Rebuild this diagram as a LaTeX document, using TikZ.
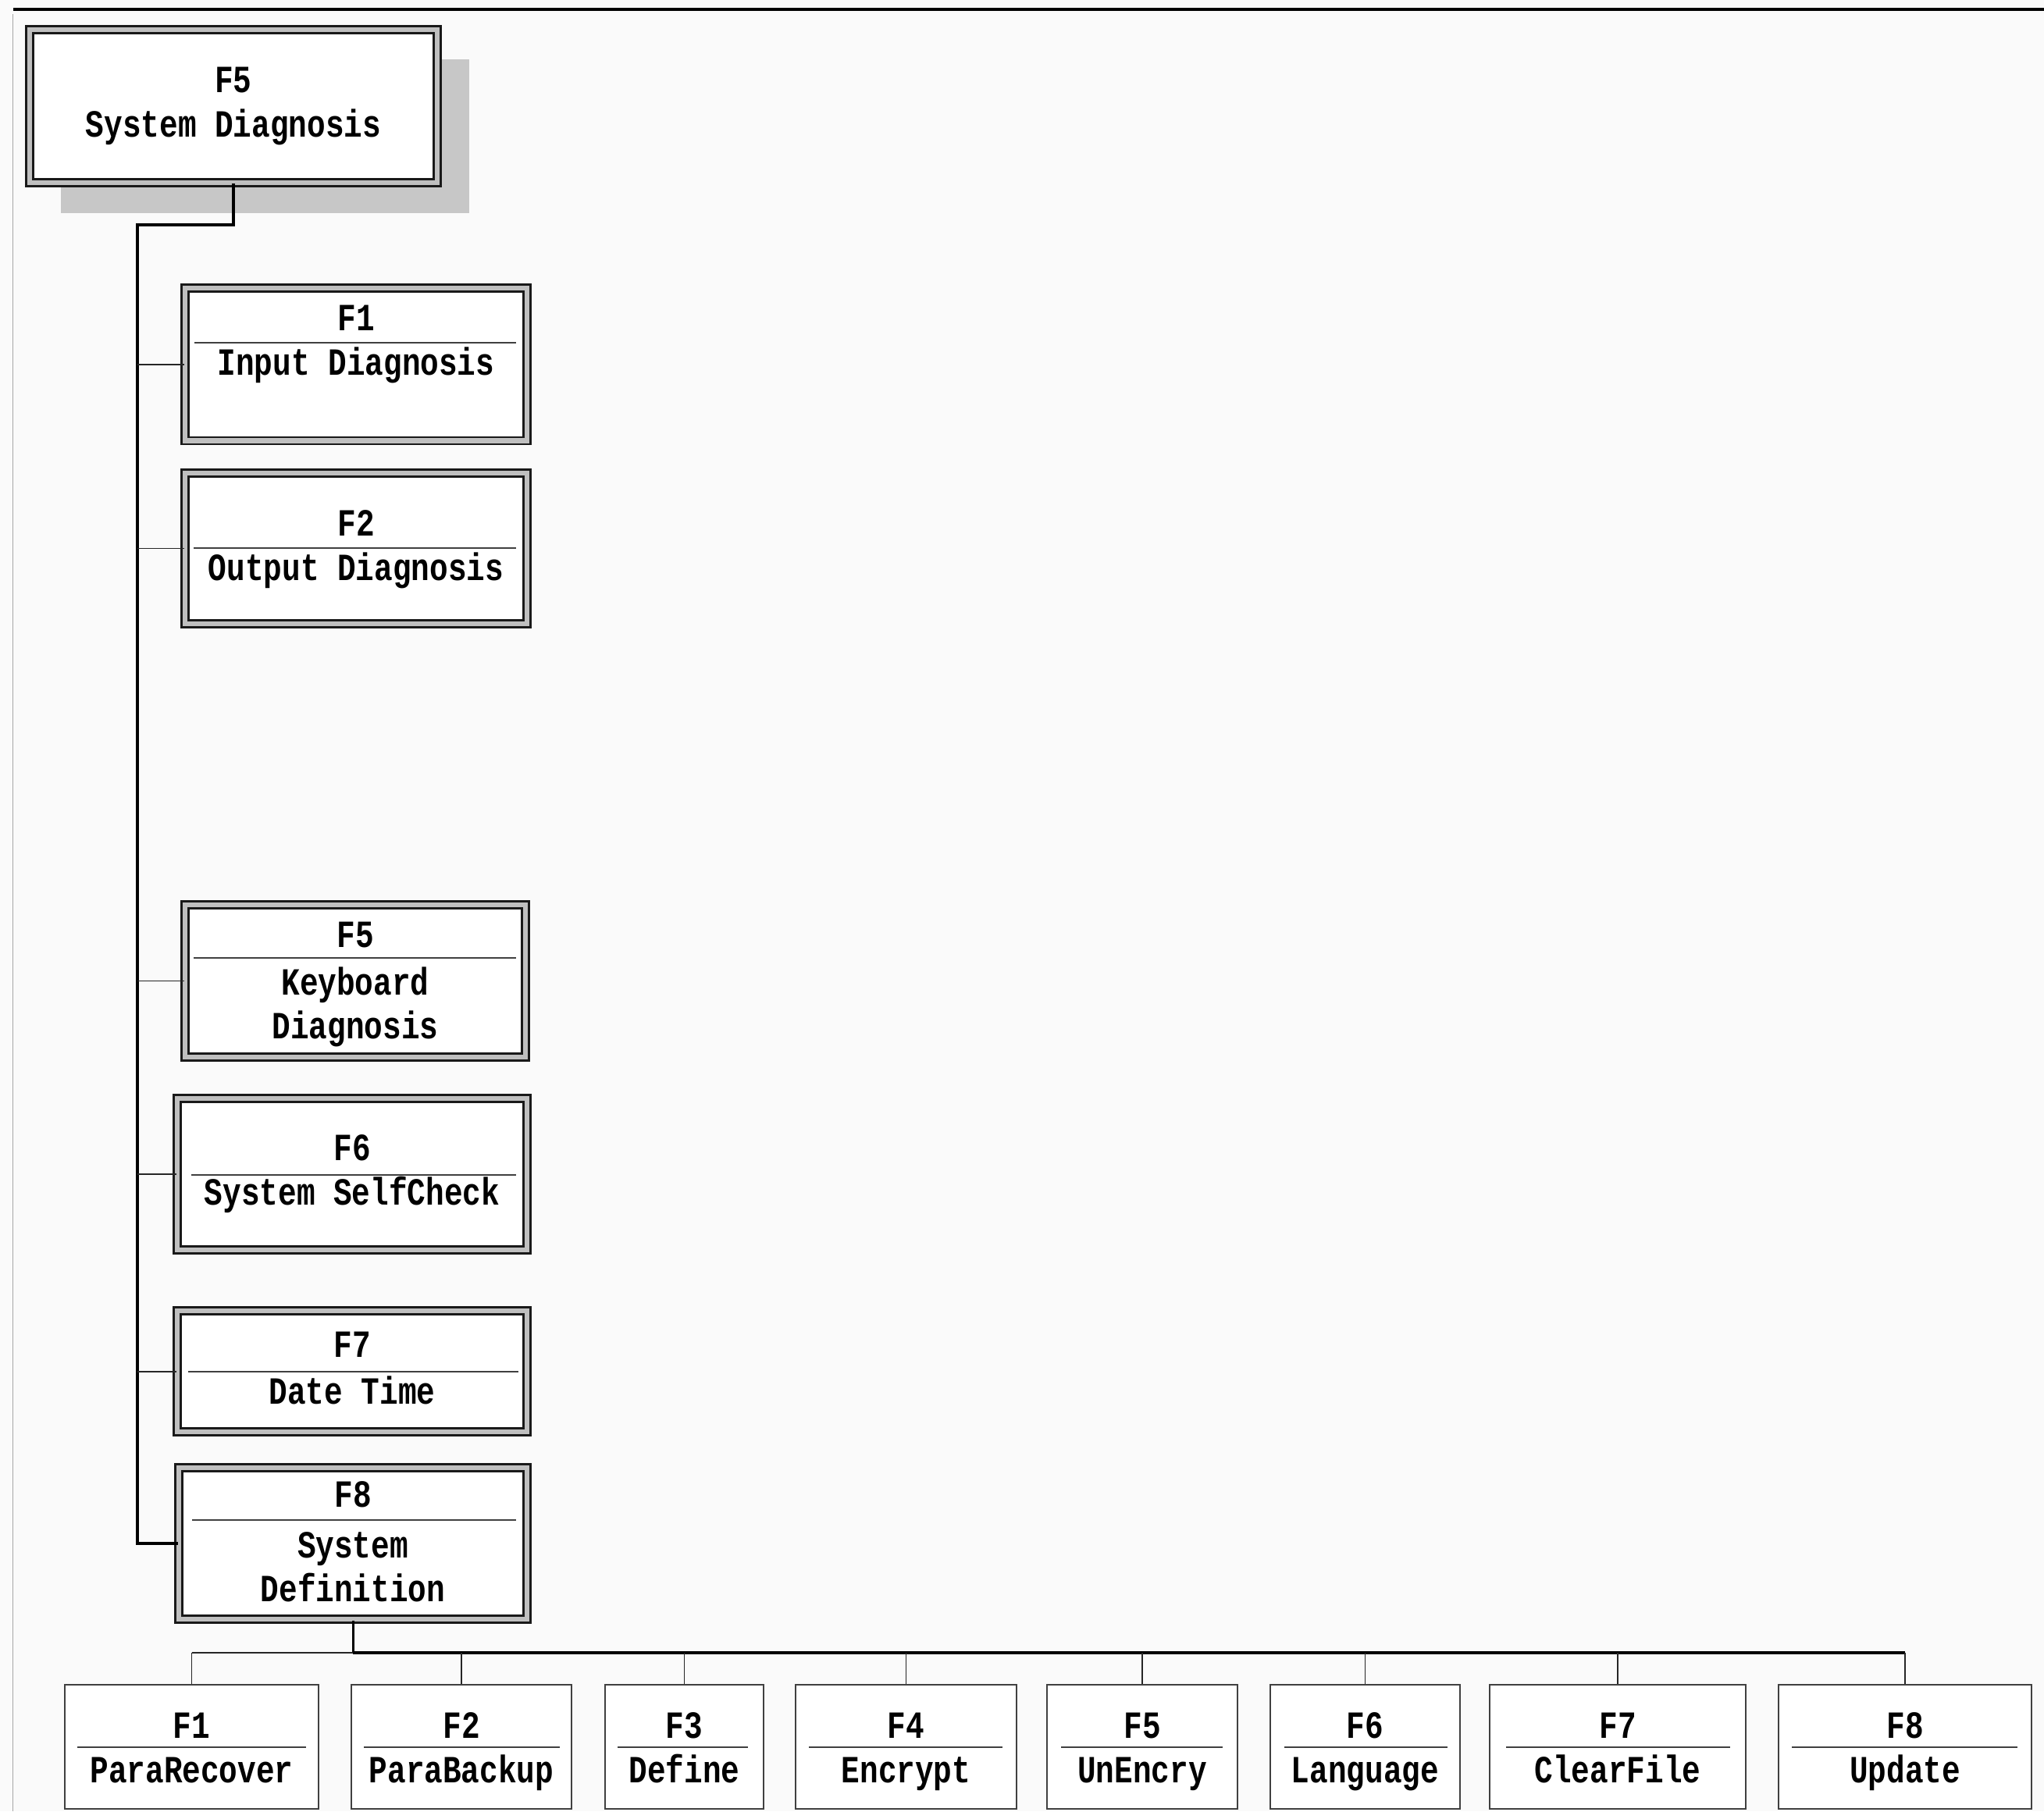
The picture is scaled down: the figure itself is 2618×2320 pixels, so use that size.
\documentclass[tikz,border=0pt]{standalone}
\usepackage{fontspec}
\usepackage{tikz}
\usetikzlibrary{positioning,calc,shadows}

\newfontfamily\boxfont[FakeStretch=0.8]{Liberation Mono}

\begin{document}
\begin{tikzpicture}[
  x=0.01cm, y=-0.01cm,
  boxText/.style={font=\boxfont\bfseries\fontsize{14}{16}\selectfont,
                  inner sep=0pt, align=center},
  labelText/.style={boxText, yshift=-0.06cm},
  menuBox/.style={draw=black!90, line width=0.8pt, double=black!25,
                  double distance=1.75pt, fill=white, inner sep=0pt},
  rootBox/.style={menuBox, drop shadow={shadow xshift=0.405cm,
                  shadow yshift=-0.385cm, fill=black!22, opacity=1}},
  leafBox/.style={draw=black!75, line width=0.6pt, fill=white,
                  inner sep=0pt, minimum height=1.59cm},
  sepLine/.style={black!75, line width=0.7pt},
  trunkLine/.style={black, line width=0.9pt},
  branchLine/.style={black!85, line width=0.55pt}
]
  \useasboundingbox (0,0) rectangle (2618,2320);
  \fill[black!2] (0,0) rectangle (2618,2320);
  % frame of the screen
  \draw[black, line width=0.9pt] (17,12) -- (2618,12);
  \draw[black!35, line width=0.4pt] (16.5,18) -- (16.5,2320);

  % === Root menu ===
  \node[rootBox, boxText, minimum width=5.22cm, minimum height=1.96cm]
    (root) at (299,136) {F5\\System Diagnosis};

  % === Diagnosis menu column ===
  \node[menuBox, minimum width=4.375cm, minimum height=1.955cm] (f1) at (456.25,466.75) {};
  \node[labelText, anchor=mid] (f1t) at (456,410) {F1};
  \draw[sepLine] (249,439) -- (661,439);
  \node[labelText, anchor=mid] (f1l) at (456,467) {Input Diagnosis};

  \node[menuBox, minimum width=4.375cm, minimum height=1.93cm] (f2) at (456.25,702.5) {};
  \node[labelText, anchor=mid] (f2t) at (456,673) {F2};
  \draw[sepLine] (248,702) -- (661,702);
  \node[labelText, anchor=mid] (f2l) at (456,730) {Output Diagnosis};

  \node[menuBox, minimum width=4.355cm, minimum height=1.95cm] (f5) at (455.25,1256.5) {};
  \node[labelText, anchor=mid] (f5t) at (455,1200) {F5};
  \draw[sepLine] (248,1227) -- (661,1227);
  \node[labelText] (f5l) at (455,1283.5) {Keyboard\\Diagnosis};

  \node[menuBox, minimum width=4.475cm, minimum height=1.94cm] (f6) at (451.25,1504) {};
  \node[labelText, anchor=mid] (f6t) at (451,1473) {F6};
  \draw[sepLine] (245,1505) -- (661,1505);
  \node[labelText, anchor=mid] (f6l) at (451,1530) {System SelfCheck};

  \node[menuBox, minimum width=4.475cm, minimum height=1.55cm] (f7) at (451.25,1756.5) {};
  \node[labelText, anchor=mid] (f7t) at (451,1725) {F7};
  \draw[sepLine] (241,1757) -- (664,1757);
  \node[labelText, anchor=mid] (f7l) at (451,1785) {Date Time};

  \node[menuBox, minimum width=4.455cm, minimum height=1.94cm] (f8) at (452.25,1977) {};
  \node[labelText, anchor=mid] (f8t) at (452,1917) {F8};
  \draw[sepLine] (246,1947) -- (661,1947);
  \node[labelText] (f8l) at (452,2001.5) {System\\Definition};

  % trunk and branches
  \coordinate (rootBend) at (176,288);
  \draw[trunkLine] (root.south) |- (rootBend) |- (f8.west);
  \draw[branchLine] (f1.west) -- (f1.west -| rootBend);
  \draw[branchLine] (f2.west) -- (f2.west -| rootBend);
  \draw[branchLine] (f5.west) -- (f5.west -| rootBend);
  \draw[branchLine] (f6.west) -- (f6.west -| rootBend);
  \draw[branchLine] (f7.west) -- (f7.west -| rootBend);

  % === System definition row ===
  \node[leafBox, minimum width=3.25cm] (b1) at (245.5,2237.5) {};
  \node[labelText, anchor=mid] (b1t) at (245.5,2213) {F1};
  \draw[sepLine] (99,2238) -- (392,2238);
  \node[labelText, anchor=mid] (b1l) at (245.5,2270) {ParaRecover};

  \node[leafBox, minimum width=2.82cm] (b2) at (591,2237.5) {};
  \node[labelText, anchor=mid] (b2t) at (591,2213) {F2};
  \draw[sepLine] (466,2238) -- (717,2238);
  \node[labelText, anchor=mid] (b2l) at (591,2270) {ParaBackup};

  \node[leafBox, minimum width=2.03cm] (b3) at (876.5,2237.5) {};
  \node[labelText, anchor=mid] (b3t) at (876.5,2213) {F3};
  \draw[sepLine] (791,2238) -- (958,2238);
  \node[labelText, anchor=mid] (b3l) at (876.5,2270) {Define};

  \node[leafBox, minimum width=2.83cm] (b4) at (1160.5,2237.5) {};
  \node[labelText, anchor=mid] (b4t) at (1160.5,2213) {F4};
  \draw[sepLine] (1036,2238) -- (1284,2238);
  \node[labelText, anchor=mid] (b4l) at (1160.5,2270) {Encrypt};

  \node[leafBox, minimum width=2.44cm] (b5) at (1463,2237.5) {};
  \node[labelText, anchor=mid] (b5t) at (1463,2213) {F5};
  \draw[sepLine] (1359,2238) -- (1566,2238);
  \node[labelText, anchor=mid] (b5l) at (1463,2270) {UnEncry};

  \node[leafBox, minimum width=2.43cm] (b6) at (1748.5,2237.5) {};
  \node[labelText, anchor=mid] (b6t) at (1748.5,2213) {F6};
  \draw[sepLine] (1645,2238) -- (1854,2238);
  \node[labelText, anchor=mid] (b6l) at (1748.5,2270) {Language};

  \node[leafBox, minimum width=3.28cm] (b7) at (2072,2237.5) {};
  \node[labelText, anchor=mid] (b7t) at (2072,2213) {F7};
  \draw[sepLine] (1929,2238) -- (2216,2238);
  \node[labelText, anchor=mid] (b7l) at (2072,2270) {ClearFile};

  \node[leafBox, minimum width=3.24cm] (b8) at (2440,2237.5) {};
  \node[labelText, anchor=mid] (b8t) at (2440,2213) {F8};
  \draw[sepLine] (2295,2238) -- (2584,2238);
  \node[labelText, anchor=mid] (b8l) at (2440,2270) {Update};

  % bus below F8
  \coordinate (busJoin) at (f8.south |- 0,2117);
  \draw[trunkLine] (f8.south) -- (busJoin);
  \draw[branchLine] (b1.north |- busJoin) -- (busJoin);
  \draw[trunkLine] (busJoin) -- (b8.north |- busJoin);
  \draw[branchLine] (b1.north) -- (b1.north |- busJoin);
  \draw[branchLine] (b2.north) -- (b2.north |- busJoin);
  \draw[branchLine] (b3.north) -- (b3.north |- busJoin);
  \draw[branchLine] (b4.north) -- (b4.north |- busJoin);
  \draw[branchLine] (b5.north) -- (b5.north |- busJoin);
  \draw[branchLine] (b6.north) -- (b6.north |- busJoin);
  \draw[branchLine] (b7.north) -- (b7.north |- busJoin);
  \draw[branchLine] (b8.north) -- (b8.north |- busJoin);
\end{tikzpicture}
\end{document}
